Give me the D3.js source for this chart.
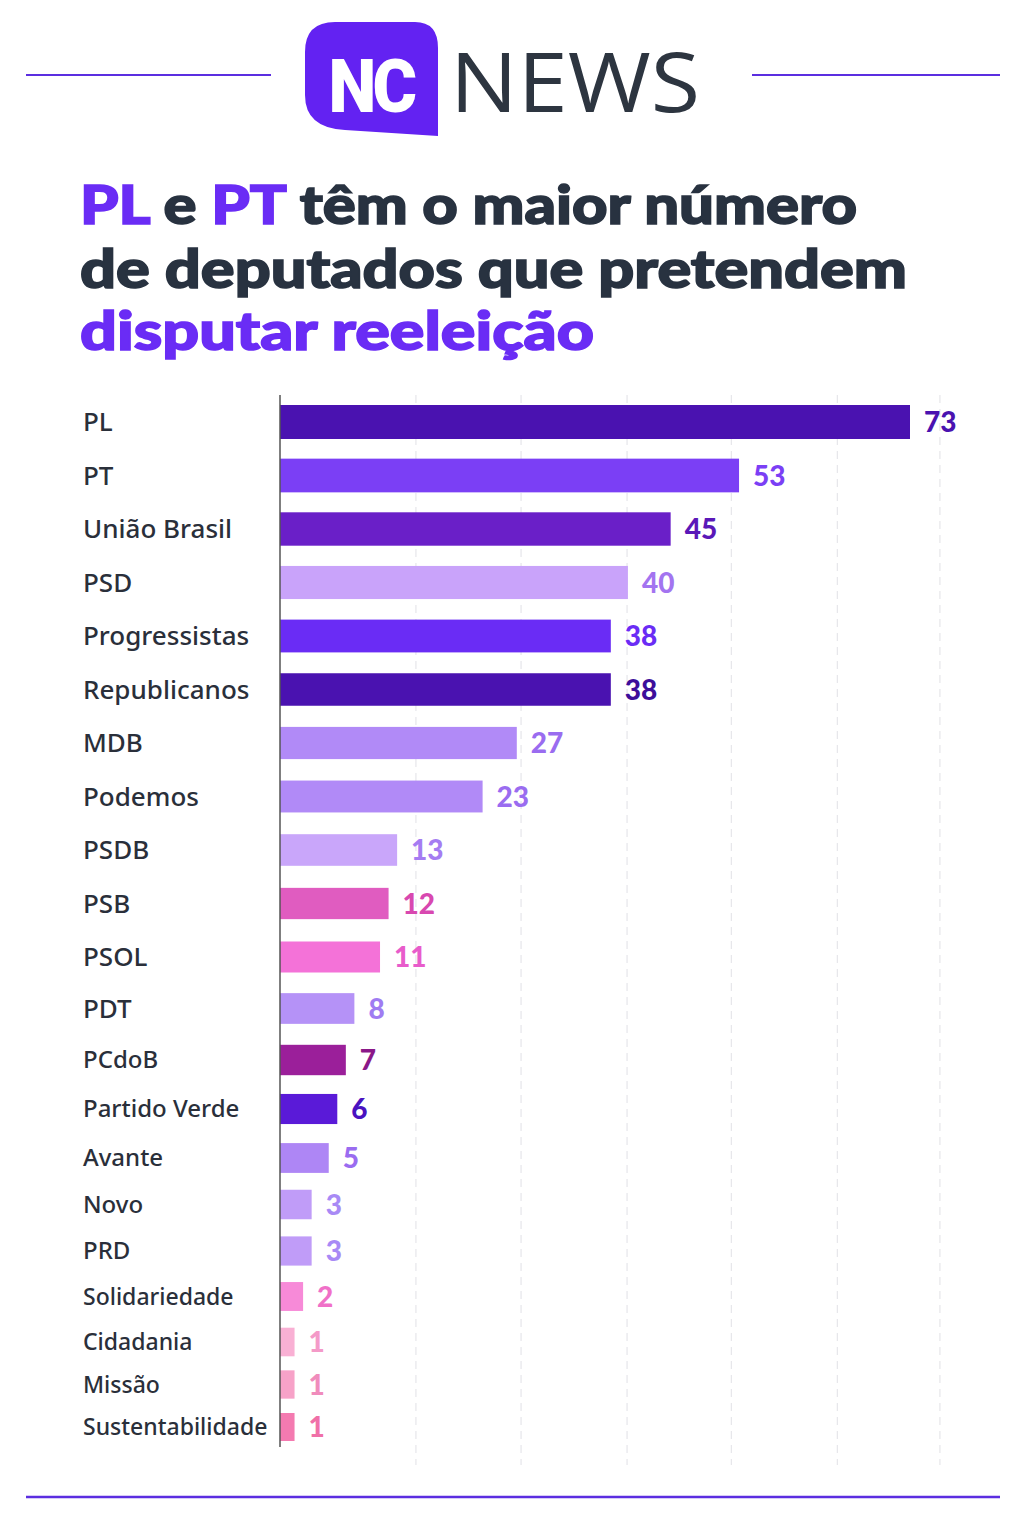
<!DOCTYPE html>
<html><head><meta charset="utf-8">
<script src="https://cdn.jsdelivr.net/npm/d3@7"></script>
<style>body{margin:0;background:#fff}</style>
</head><body>
<svg id="chart" width="1024" height="1536"></svg>
<script>
// Chart data
const parties = ['PL','PT','União Brasil','PSD','Progressistas','Republicanos','MDB','Podemos','PSDB','PSB','PSOL','PDT','PCdoB','Partido Verde','Avante','Novo','PRD','Solidariedade','Cidadania','Missão','Sustentabilidade'];
const seats = [73,53,45,40,38,38,27,23,13,12,11,8,7,6,5,3,3,2,1,1,1];
const barColors = ['#4a12b0','#7b3ff5','#6a1fc8','#c9a3fa','#6a2cf5','#4a12b0','#b18af7','#b18af7','#c9a6fa','#e05cc0','#f472d8','#b592f7','#9b1f9a','#5a1ad8','#ae86f5','#c09cf8','#c09cf8','#f78ad8','#f9b0d4','#f7a2c8','#f47ab0'];
const labelColors = ['#4a12b0','#7b3ff5','#5a18b8','#a374f0','#6a2cf5','#3d0e9a','#9a6cf0','#9a6cf0','#a57cf2','#d848b0','#e85ccb','#a07cf2','#8a1888','#4a12c0','#9a6cf0','#a88af5','#a88af5','#f070c8','#f49ac8','#f08cbc','#f070a8'];
const gridValues = [15.2,27.5,39.9,52.1,64.5,76.5];

const svg = d3.select('#chart');
const purple = '#5b2ee0';

// Header: rules and logo
svg.append('line').attr('x1',26).attr('x2',271).attr('y1',75).attr('y2',75).attr('stroke',purple).attr('stroke-width',2);
svg.append('line').attr('x1',752).attr('x2',1000).attr('y1',75).attr('y2',75).attr('stroke',purple).attr('stroke-width',2);
svg.append('line').attr('x1',26).attr('x2',1000).attr('y1',1497).attr('y2',1497).attr('stroke',purple).attr('stroke-width',2.5);
svg.append('path')
  .attr('d','M335,22 L415,22 Q438,22 438,48 L438,136 L345,130 Q305,128 305,95 L305,52 Q305,22 335,22 Z')
  .attr('fill','#6322f2');
svg.append('text').attr('x',371).attr('y',112).attr('text-anchor','middle')
  .attr('font-family','Roboto').attr('font-weight',900).attr('font-size',74)
  .attr('fill','#fff').attr('letter-spacing',-4).attr('transform','translate(371,0) scale(0.92,1) translate(-371,0)').text('NC');
svg.append('text').attr('x',450).attr('y',112)
  .attr('font-family','Open Sans').attr('font-weight',400).attr('font-size',82)
  .attr('textLength',250).attr('lengthAdjust','spacingAndGlyphs')
  .attr('fill','#2d3540').text('NEWS');

// Title
const title = svg.append('g').attr('font-family','Lato').attr('font-weight',900).attr('font-size',54)
  .attr('fill','#283240').attr('stroke-width',1.6);
const t1 = title.append('text').attr('x',80).attr('y',224).attr('textLength',777).attr('lengthAdjust','spacingAndGlyphs');
t1.append('tspan').attr('fill','#6a2cf5').attr('stroke','#6a2cf5').text('PL');
t1.append('tspan').attr('stroke','#283240').text(' e ');
t1.append('tspan').attr('fill','#6a2cf5').attr('stroke','#6a2cf5').text('PT');
t1.append('tspan').attr('stroke','#283240').text(' têm o maior número');
title.append('text').attr('x',80).attr('y',288).attr('stroke','#283240')
  .attr('textLength',827).attr('lengthAdjust','spacingAndGlyphs').text('de deputados que pretendem');
title.append('text').attr('x',80).attr('y',350).attr('fill','#6a2cf5').attr('stroke','#6a2cf5')
  .attr('textLength',514).attr('lengthAdjust','spacingAndGlyphs').text('disputar reeleição');

// Scales: rows get tighter toward the bottom
const x = d3.scaleLinear().domain([0,73]).range([286,910]);
const y = d3.scaleLinear().domain([0,10,12,14,16,18,20]).range([422,957,1060,1158,1251,1342,1427]);
const h = d3.scaleLinear().domain([0,20]).range([34,28]);

// Gridlines
svg.append('g').selectAll('line').data(gridValues).join('line')
  .attr('x1',d=>x(d)).attr('x2',d=>x(d)).attr('y1',395).attr('y2',1465)
  .attr('stroke','#e6e6ea').attr('stroke-width',1.2).attr('stroke-dasharray','8,6');

const rows = svg.append('g').selectAll('g').data(parties).join('g');
rows.append('rect')
  .attr('x',280).attr('y',(d,i)=>y(i)-h(i)/2)
  .attr('width',(d,i)=>x(seats[i])-280).attr('height',(d,i)=>h(i))
  .attr('fill',(d,i)=>barColors[i]);
rows.append('text')
  .attr('x',83).attr('y',(d,i)=>y(i)).attr('dy','0.35em')
  .attr('font-family','Noto Sans').attr('font-weight',500).attr('font-size',(d,i)=>i<12?26:(i<17?24:23)).attr('fill','#2a2f3a')
  .text(d=>d);
rows.append('text')
  .attr('x',(d,i)=>x(seats[i])+14).attr('y',(d,i)=>y(i)).attr('dy','0.36em')
  .attr('font-family','Lato').attr('font-weight',900).attr('font-size',28)
  .attr('fill',(d,i)=>labelColors[i])
  .text((d,i)=>seats[i]);

// Axis line
svg.append('line').attr('x1',280).attr('x2',280).attr('y1',395).attr('y2',1447).attr('stroke','#555').attr('stroke-width',1.5);
</script>
</body></html>
